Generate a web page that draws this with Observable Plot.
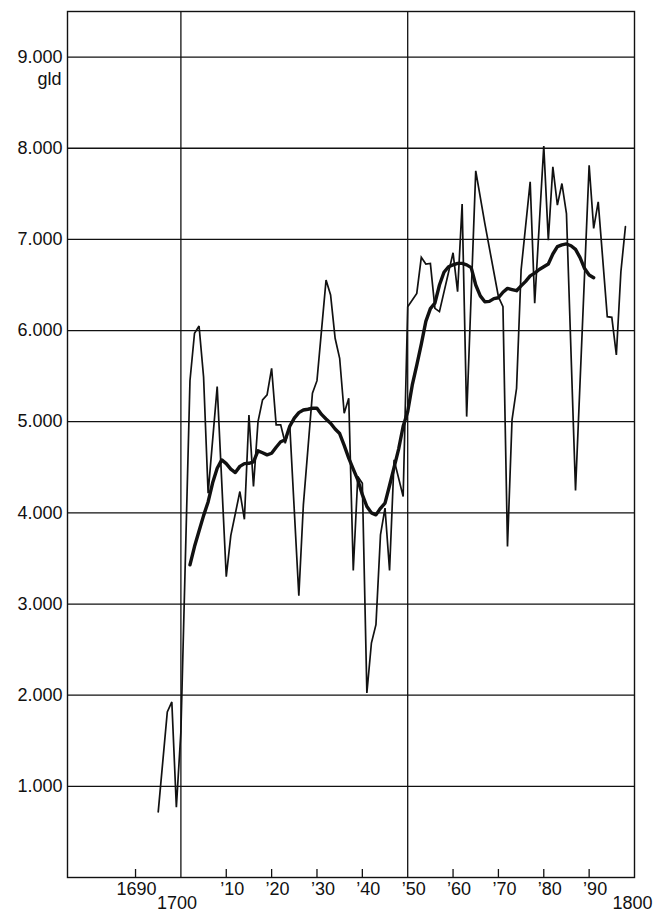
<!DOCTYPE html>
<html>
<head>
<meta charset="utf-8">
<script src="https://cdn.jsdelivr.net/npm/d3@7"></script>
<script src="https://cdn.jsdelivr.net/npm/@observablehq/plot@0.6"></script>
<style>
  html, body { margin: 0; padding: 0; background: #fff; }
  #chart svg { display: block; }
</style>
</head>
<body>
<div id="chart"></div>
<script>
// Annual series (gld)
const thinYears = [1695,1697,1698,1699,1700,1702,1703,1704,1705,1706,1708,1710,1711,1713,1714,1715,1716,1717,1718,1719,1720,1721,1722,1723,1724,1726,1727,1729,1730,1732,1733,1734,1735,1736,1737,1738,1739,1740,1741,1742,1743,1744,1745,1746,1747,1749,1750,1752,1753,1754,1755,1756,1757,1760,1761,1762,1763,1765,1767,1770,1771,1772,1773,1774,1775,1777,1778,1780,1781,1782,1783,1784,1785,1787,1790,1791,1792,1794,1795,1796,1797,1798];
const thinValues = [720,1816,1926,770,1600,5450,5970,6050,5490,4216,5385,3300,3750,4234,3930,5074,4289,5001,5239,5294,5586,4965,4965,4764,4960,3090,4088,5312,5450,6554,6390,5915,5696,5093,5257,3368,4398,4325,2024,2572,2773,3759,4052,3368,4581,4179,6262,6408,6803,6730,6737,6243,6207,6853,6426,7387,5056,7752,7175,6371,6262,3631,5020,5367,6664,7631,6299,8023,6992,7796,7376,7613,7284,4245,7814,7120,7412,6152,6145,5732,6645,7140];

// Moving average (thick line)
const avgYears = [1702,1703,1704,1705,1706,1707,1708,1709,1710,1711,1712,1713,1714,1715,1716,1717,1718,1719,1720,1721,1722,1723,1724,1725,1726,1727,1728,1729,1730,1731,1732,1733,1734,1735,1736,1737,1738,1739,1740,1741,1742,1743,1744,1745,1746,1747,1748,1749,1750,1751,1752,1753,1754,1755,1756,1757,1758,1759,1760,1761,1762,1763,1764,1765,1766,1767,1768,1769,1770,1771,1772,1773,1774,1775,1776,1777,1778,1779,1780,1781,1782,1783,1784,1785,1786,1787,1788,1789,1790,1791];
const avgValues = [3430,3630,3800,3970,4120,4330,4490,4581,4540,4480,4442,4510,4540,4544,4560,4680,4660,4636,4654,4720,4780,4800,4950,5040,5100,5129,5137,5148,5148,5080,5030,4983,4920,4870,4740,4600,4480,4362,4200,4070,4000,3978,4050,4107,4300,4500,4700,4950,5110,5400,5620,5850,6100,6240,6300,6500,6640,6700,6720,6737,6737,6720,6690,6500,6380,6316,6320,6350,6360,6420,6463,6450,6437,6490,6540,6600,6630,6670,6700,6730,6840,6920,6940,6950,6930,6890,6800,6680,6610,6580];

const yTicks = [1000,2000,3000,4000,5000,6000,7000,8000,9000];
const yTickLabels = ["1.000","2.000","3.000","4.000","5.000","6.000","7.000","8.000","9.000"];
const yUnit = "gld";
const xMajorLines = [1700, 1750];
const xMinorTicks = [1690,1710,1720,1730,1740,1760,1770,1780,1790];
const xFirstTick = [1690];
const xFirstLabel = ["1690"];
const xDecadeTicks = [1710,1720,1730,1740,1750,1760,1770,1780,1790];
const xDecadeLabels = ["’10","’20","’30","’40","’50","’60","’70","’80","’90"];
const xCenturyTicks = [1700, 1800];
const xCenturyLabels = ["1700", "1800"];

const thin = thinYears.map((y, i) => ({year: y, value: thinValues[i]}));
const avg = avgYears.map((y, i) => ({year: y, value: avgValues[i]}));
const first = xFirstTick.map((t, i) => ({t, label: xFirstLabel[i]}));
const decades = xDecadeTicks.map((t, i) => ({t, label: xDecadeLabels[i]}));
const cent0 = [{t: xCenturyTicks[0], label: xCenturyLabels[0]}];
const cent1 = [{t: xCenturyTicks[1], label: xCenturyLabels[1]}];
const yl = yTicks.map((t, i) => ({t, label: yTickLabels[i]}));

const W = 655, H = 914;
const mT = 11, mB = 37, mL = 67, mR = 21;
const font = "'Liberation Sans', Arial, Helvetica, sans-serif";
const ink = "#111";
const tickLen = 8 * 9500 / (H - mT - mB); // 8px expressed in y units

const textOpts = {frameAnchor: "bottom", lineAnchor: "middle", fontSize: 18, fill: ink};

const chart = Plot.plot({
  width: W,
  height: H,
  marginTop: mT,
  marginBottom: mB,
  marginLeft: mL,
  marginRight: mR,
  style: {fontFamily: font, background: "#fff", overflow: "visible"},
  x: {domain: [1675, 1800], axis: null},
  y: {domain: [0, 9500], axis: null},
  marks: [
    Plot.ruleY(yTicks, {stroke: ink, strokeWidth: 1.3}),
    Plot.ruleX(xMajorLines, {stroke: ink, strokeWidth: 1.3}),
    Plot.frame({stroke: ink, strokeWidth: 1.4}),
    Plot.ruleX(xMinorTicks, {x: d => d, y1: 0, y2: tickLen, stroke: ink, strokeWidth: 1.3}),
    Plot.line(thin, {x: "year", y: "value", stroke: ink, strokeWidth: 1.7, strokeLinejoin: "miter", strokeMiterlimit: 3}),
    Plot.line(avg, {x: "year", y: "value", stroke: ink, strokeWidth: 3.4, strokeLinejoin: "round"}),
    Plot.text(yl, {y: "t", text: "label", frameAnchor: "left", textAnchor: "end", dx: -5, fontSize: 18, fill: ink}),
    Plot.text([yUnit], {y: [9000], text: d => d, frameAnchor: "left", textAnchor: "end", dx: -6, dy: 22, fontSize: 18, fill: ink}),
    Plot.text(first, {x: "t", text: "label", dx: 1, dy: 12, ...textOpts}),
    Plot.text(decades, {x: "t", text: "label", dx: 6, dy: 12, ...textOpts}),
    Plot.text(cent0, {x: "t", text: "label", dx: -4, dy: 26, ...textOpts}),
    Plot.text(cent1, {x: "t", text: "label", dx: -2, dy: 26, ...textOpts})
  ]
});

document.getElementById("chart").appendChild(chart);
</script>
</body>
</html>
